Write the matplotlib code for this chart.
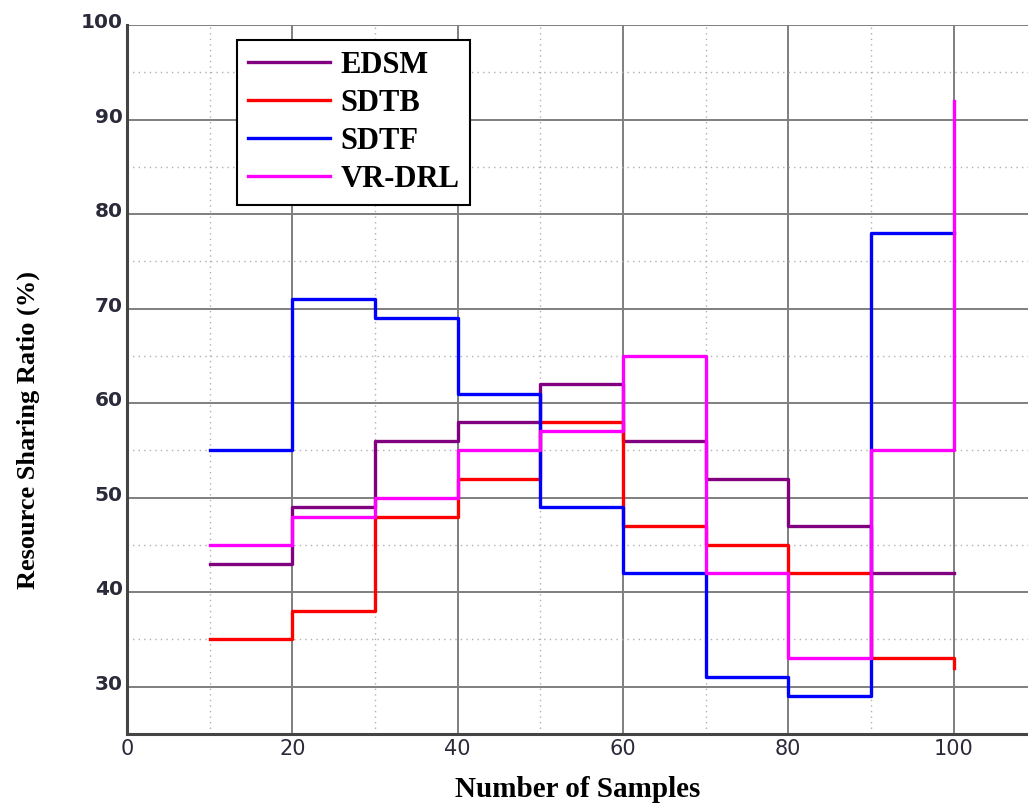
from matplotlib import pyplot as plt
from matplotlib import transforms
import numpy as np

samples = [10, 20, 30, 40, 50, 60, 70, 80, 90, 100]
edsm = [43, 49, 56, 58, 62, 56, 52, 47, 42, 42]
sdtb = [35, 38, 48, 52, 58, 47, 45, 42, 33, 32]
sdtf = [55, 71, 69, 61, 49, 42, 31, 29, 78, 78]
vr_drl = [45, 48, 50, 55, 57, 65, 42, 33, 55, 92]

series = [('EDSM', edsm, '#800080'),
          ('SDTB', sdtb, '#ff0000'),
          ('SDTF', sdtf, '#0000ff'),
          ('VR-DRL', vr_drl, '#ff00ff')]

fig = plt.figure(figsize=(10.28, 8.1), dpi=100)
ax = fig.add_axes([0.1235, 0.094, 0.8765, 0.875])

for name, vals, col in series:
    ax.step(samples, vals, where='post', color=col, lw=2.4, label=name, zorder=3)

ax.set_xlim(0, 109)
ax.set_ylim(25, 100)
ax.set_xticks(np.arange(0, 101, 20))
ax.set_yticks(np.arange(30, 101, 10))
ax.set_xticks(np.arange(10, 100, 20), minor=True)
ax.set_yticks(np.arange(35, 100, 10), minor=True)
ax.grid(which='major', color='#7f7f7f', lw=1.4, ls='-')
ax.grid(which='minor', color='#b0b0b0', lw=1.0, ls=(0, (1, 3)))
ax.tick_params(which='both', length=0, labelcolor='#2a2a3a')
ax.tick_params(axis='y', pad=3, labelsize=14.5)
ax.tick_params(axis='x', pad=4, labelsize=15)
ax.set_yticklabels(['30', '40', '50', '60', '70', '80', '90', '100'])
# y labels sit a little above their grid lines
shift = transforms.ScaledTranslation(0, 3 / 72, fig.dpi_scale_trans)
for lab in ax.get_yticklabels():
    lab.set_fontweight('bold')
    lab.set_transform(lab.get_transform() + shift)

ax.spines['top'].set_visible(False)
ax.spines['right'].set_visible(False)
ax.spines['left'].set_color('#444444')
ax.spines['bottom'].set_color('#444444')
ax.spines['left'].set_linewidth(2.2)
ax.spines['bottom'].set_linewidth(2.2)

ax.set_xlabel('Number of Samples', fontfamily='Liberation Serif', fontweight='bold',
              fontsize=21, labelpad=12)
ax.set_ylabel('Resource Sharing Ratio (%)', fontfamily='Liberation Serif', fontweight='bold',
              fontsize=19)
ax.yaxis.set_label_coords(-0.097, 0.429)

leg = ax.legend(loc='upper left', bbox_to_anchor=(0.122, 0.979), borderaxespad=0,
                fancybox=False, framealpha=1, edgecolor='black', handlelength=2.7,
                handletextpad=0.35, borderpad=0.35, labelspacing=0.3,
                prop={'family': 'Liberation Serif', 'weight': 'bold', 'size': 22})
leg.get_frame().set_linewidth(1.5)

fig.savefig('out.png', dpi=100)
